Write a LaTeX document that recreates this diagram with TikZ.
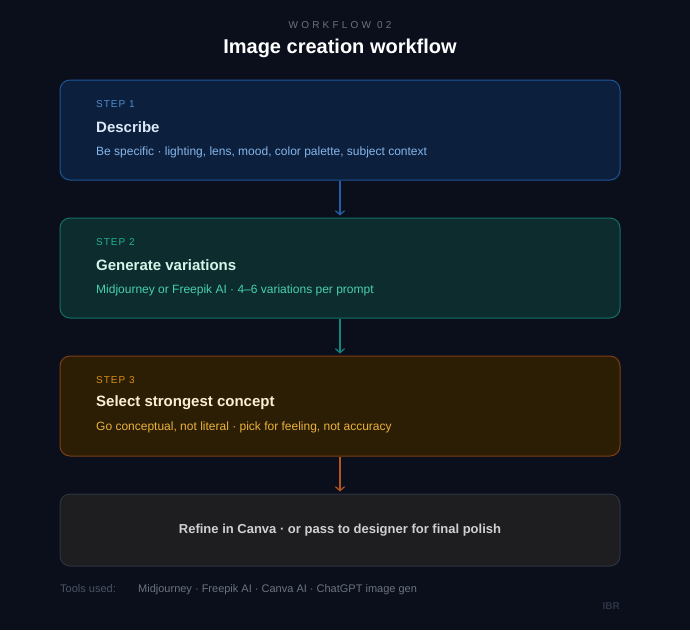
\documentclass[tikz,border=0pt]{standalone}
\usepackage{fontspec}
\setmainfont{Liberation Sans}
\usetikzlibrary{arrows.meta}
\definecolor{bg}{HTML}{0B0F1C}
\definecolor{fa}{HTML}{0C1F3C}\definecolor{da}{HTML}{1D5597}
\definecolor{sa}{HTML}{4F8CD0}\definecolor{ta}{HTML}{DCE8F8}\definecolor{ua}{HTML}{86B6EC}
\definecolor{fb}{HTML}{0D2C2D}\definecolor{db}{HTML}{127068}
\definecolor{sb}{HTML}{26AE97}\definecolor{tb}{HTML}{D5F5EA}\definecolor{ub}{HTML}{48CFB1}
\definecolor{fc}{HTML}{2C1D05}\definecolor{dc}{HTML}{7E3F12}
\definecolor{sc}{HTML}{D8900F}\definecolor{tc}{HTML}{FBEED3}\definecolor{uc}{HTML}{E9B33A}
\definecolor{fd}{HTML}{1E1E20}\definecolor{dd}{HTML}{2B3342}\definecolor{td}{HTML}{D0D0D2}
\definecolor{aa}{HTML}{2160A8}\definecolor{ab}{HTML}{118780}\definecolor{ac}{HTML}{B4561C}
\definecolor{gk}{HTML}{6B7280}\definecolor{gt}{HTML}{4B5563}\definecolor{gi}{HTML}{2C3546}
\tikzset{
  stepbox/.style={draw, line width=1pt, rounded corners=10pt, minimum width=560pt, minimum height=100pt, inner sep=0pt},
  steplbl/.style={anchor=west, inner sep=0pt, font=\fontsize{10}{12}\selectfont\addfontfeatures{LetterSpace=10}},
  steptitle/.style={anchor=west, inner sep=0pt, font=\fontsize{15}{18}\selectfont\bfseries},
  stepsub/.style={anchor=west, inner sep=0pt, font=\fontsize{12}{14}\selectfont},
  flow/.style={line width=1.2pt, -{Straight Barb[length=4pt,width=9pt,line width=1.2pt]}, shorten >=2pt},
  foot/.style={anchor=base west, inner sep=0pt, font=\fontsize{11}{13}\selectfont},
}
\begin{document}
\begin{tikzpicture}[x=1pt,y=-1pt]
\fill[bg] (0,0) rectangle (690,630);
\useasboundingbox (0,0) rectangle (690,630);
\node[text=gk, font=\fontsize{10}{12}\selectfont\addfontfeatures{LetterSpace=32}] (kick) at (340,25) {WORKFLOW 02};
\node[text=white, font=\fontsize{20}{24}\selectfont\bfseries] (title) at (340,48) {Image creation workflow};

\node[stepbox, draw=da, fill=fa] (b1) at (340,130) {};
\node[stepbox, draw=db, fill=fb] (b2) at (340,268) {};
\node[stepbox, draw=dc, fill=fc] (b3) at (340,406) {};
\node[stepbox, draw=dd, fill=fd, minimum height=72pt] (b4) at (340,530) {};

\node[steplbl, text=sa] (s1) at (96,104.5) {STEP 1};
\node[steptitle, text=ta] (t1) at (96,127) {Describe};
\node[stepsub, text=ua] (u1) at (96,152) {Be specific · lighting, lens, mood, color palette, subject context};

\node[steplbl, text=sb] (s2) at (96,242.5) {STEP 2};
\node[steptitle, text=tb] (t2) at (96,265) {Generate variations};
\node[stepsub, text=ub] (u2) at (96,290) {Midjourney or Freepik AI · 4–6 variations per prompt};

\node[steplbl, text=sc] (s3) at (96,380.5) {STEP 3};
\node[steptitle, text=tc] (t3) at (96,403) {Select strongest concept};
\node[stepsub, text=uc] (u3) at (96,427) {Go conceptual, not literal · pick for feeling, not accuracy};

\node[text=td, inner sep=0pt, font=\fontsize{13}{16}\selectfont\bfseries] (t4) at (b4.center) {Refine in Canva · or pass to designer for final polish};

\draw[flow, aa] (b1.south) -- (b2.north);
\draw[flow, ab] (b2.south) -- (b3.north);
\draw[flow, ac] (b3.south) -- (b4.north);

\node[foot, text=gt] (tools) at (60,592) {Tools used:};
\node[foot, text=gk] (toollist) at (138,592) {Midjourney · Freepik AI · Canva AI · ChatGPT image gen};
\node[anchor=east, inner sep=0pt, text=gi, font=\fontsize{10}{12}\selectfont\bfseries] (ibr) at (620,606) {IBR};
\end{tikzpicture}
\end{document}
